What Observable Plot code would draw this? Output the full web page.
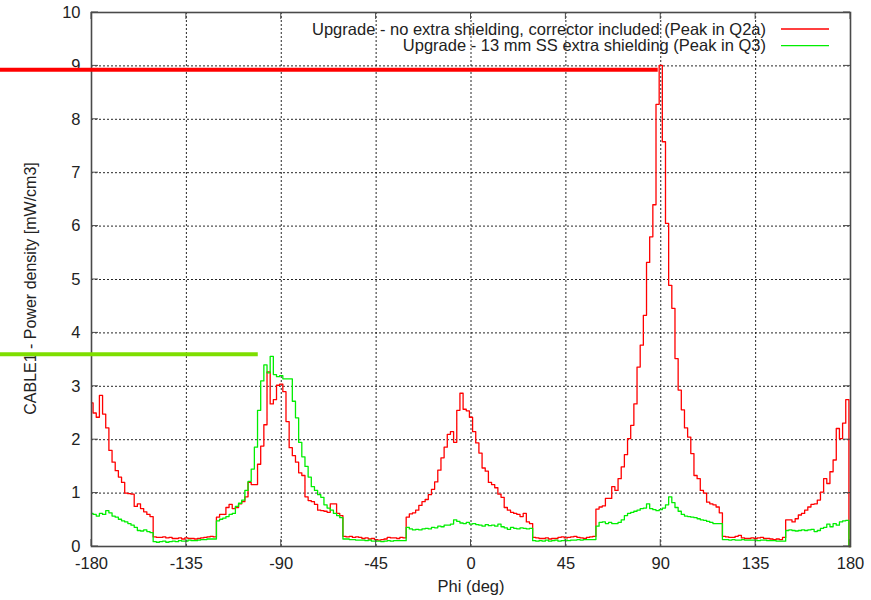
<!DOCTYPE html>
<html>
<head>
<meta charset="utf-8">
<script src="https://cdn.jsdelivr.net/npm/d3@7"></script>
<script src="https://cdn.jsdelivr.net/npm/@observablehq/plot@0.6"></script>
<style>
  html, body { margin: 0; padding: 0; background: #fff; }
  #chart svg { display: block; }
</style>
</head>
<body>
<div id="chart"></div>
<script>
// ---------- data (bins of 1.5 deg, centred on -180, -178.5, ..., 178.5) ----------
const phiFirst = -180;
const phiStep = 1.5;
const phiEnd = 180;

const seriesNames = [
  "Upgrade - no extra shielding, corrector included (Peak in Q2a)",
  "Upgrade - 13 mm SS extra shielding (Peak in Q3)"
];
const seriesColors = ["#ff0000", "#00ee00"];

const redPower = [
  // -180 .. -151.5
  2.69, 2.5, 2.42, 2.83, 2.48, 2.22, 1.8, 1.58, 1.42, 1.3, 1.2, 1.0, 0.99, 0.98, 0.75, 0.8, 0.71, 0.65, 0.6, 0.56,
  // -150 .. -121.5
  0.18, 0.17, 0.17, 0.18, 0.16, 0.17, 0.15, 0.15, 0.16, 0.14, 0.16, 0.15, 0.15, 0.14, 0.15, 0.16, 0.17, 0.18, 0.19, 0.18,
  // -120 .. -61.5
  0.55, 0.6, 0.6, 0.73, 0.79, 0.71, 0.73, 0.8, 0.84, 0.93, 1.2, 1.16, 1.16, 1.54, 1.88, 2.28, 3.27, 2.67, 2.75, 3.02,
  3.04, 2.9, 2.34, 1.85, 1.7, 1.58, 1.38, 1.33, 0.93, 0.86, 0.84, 0.79, 0.68, 0.67, 0.66, 0.64, 0.8, 0.8, 0.62, 0.58,
  // -60 .. -31.5
  0.19, 0.18, 0.19, 0.17, 0.18, 0.17, 0.15, 0.16, 0.14, 0.15, 0.13, 0.12, 0.13, 0.14, 0.17, 0.16, 0.16, 0.15, 0.17, 0.16,
  // -30 .. 28.5
  0.55, 0.61, 0.63, 0.68, 0.77, 0.84, 0.88, 0.97, 1.07, 1.21, 1.43, 1.66, 1.86, 2.1, 2.15, 1.95, 2.55, 2.87, 2.57, 2.54,
  2.42, 2.15, 1.94, 1.75, 1.47, 1.41, 1.2, 1.16, 1.1, 0.98, 0.92, 0.73, 0.68, 0.64, 0.62, 0.6, 0.56, 0.62, 0.46, 0.43,
  // 30 .. 58.5
  0.17, 0.16, 0.15, 0.15, 0.16, 0.14, 0.15, 0.15, 0.17, 0.18, 0.16, 0.17, 0.18, 0.19, 0.17, 0.16, 0.15, 0.17, 0.18, 0.19,
  // 60 .. 118.5
  0.7, 0.74, 0.76, 0.9, 0.9, 1.12, 1.05, 1.27, 1.49, 1.72, 2.02, 2.27, 2.67, 3.36, 3.77, 4.33, 5.32, 5.8, 6.4, 8.28,
  9.01, 7.58, 6.05, 4.89, 4.46, 3.52, 2.93, 2.56, 2.22, 2.05, 1.74, 1.33, 1.27, 1.05, 1.0, 0.83, 0.8, 0.78, 0.74, 0.63,
  // 120 .. 148.5
  0.19, 0.18, 0.17, 0.17, 0.19, 0.21, 0.16, 0.15, 0.15, 0.16, 0.15, 0.16, 0.17, 0.15, 0.15, 0.14, 0.13, 0.14, 0.13, 0.17,
  // 150 .. 178.5
  0.5, 0.5, 0.46, 0.52, 0.59, 0.62, 0.68, 0.74, 0.79, 0.8, 0.87, 1.02, 1.27, 1.18, 1.4, 1.62, 2.21, 2.02, 2.31, 2.75
];

const greenPower = [
  // -180 .. -151.5
  0.62, 0.6, 0.57, 0.62, 0.6, 0.67, 0.63, 0.57, 0.55, 0.51, 0.48, 0.46, 0.43, 0.4, 0.36, 0.3, 0.29, 0.31, 0.28, 0.26,
  // -150 .. -121.5
  0.09, 0.08, 0.09, 0.1, 0.08, 0.09, 0.1, 0.09, 0.11, 0.1, 0.1, 0.12, 0.11, 0.11, 0.12, 0.13, 0.13, 0.14, 0.14, 0.14,
  // -120 .. -61.5
  0.48, 0.51, 0.53, 0.56, 0.6, 0.62, 0.75, 0.81, 0.87, 1.05, 1.22, 1.45, 1.86, 2.55, 3.1, 3.4, 3.25, 3.56, 3.22, 3.18,
  3.2, 3.14, 3.14, 3.14, 2.72, 2.41, 1.95, 1.68, 1.5, 1.3, 1.12, 1.05, 0.97, 0.92, 0.78, 0.72, 0.68, 0.62, 0.58, 0.54,
  // -60 .. -31.5
  0.14, 0.14, 0.13, 0.13, 0.12, 0.12, 0.12, 0.11, 0.12, 0.1, 0.1, 0.1, 0.09, 0.1, 0.11, 0.1, 0.11, 0.11, 0.11, 0.11,
  // -30 .. 28.5
  0.36, 0.33, 0.31, 0.32, 0.31, 0.33, 0.34, 0.33, 0.36, 0.35, 0.38, 0.37, 0.4, 0.4, 0.42, 0.5, 0.47, 0.44, 0.43, 0.45,
  0.42, 0.43, 0.41, 0.4, 0.38, 0.41, 0.39, 0.4, 0.38, 0.42, 0.37, 0.35, 0.32, 0.36, 0.34, 0.33, 0.35, 0.34, 0.33, 0.34,
  // 30 .. 58.5
  0.11, 0.1, 0.11, 0.1, 0.12, 0.1, 0.11, 0.12, 0.1, 0.11, 0.12, 0.11, 0.12, 0.12, 0.13, 0.12, 0.13, 0.13, 0.13, 0.13,
  // 60 .. 118.5
  0.38, 0.45, 0.46, 0.43, 0.45, 0.43, 0.43, 0.45, 0.5, 0.58, 0.62, 0.64, 0.66, 0.68, 0.71, 0.72, 0.8, 0.71, 0.69, 0.67,
  0.69, 0.72, 0.78, 0.93, 0.82, 0.73, 0.66, 0.6, 0.57, 0.56, 0.55, 0.54, 0.52, 0.5, 0.49, 0.47, 0.45, 0.43, 0.43, 0.43,
  // 120 .. 148.5
  0.13, 0.13, 0.12, 0.13, 0.12, 0.12, 0.13, 0.12, 0.12, 0.12, 0.12, 0.11, 0.12, 0.12, 0.11, 0.11, 0.11, 0.1, 0.1, 0.1,
  // 150 .. 178.5
  0.3, 0.31, 0.3, 0.29, 0.3, 0.31, 0.3, 0.31, 0.32, 0.28, 0.3, 0.34, 0.36, 0.42, 0.37, 0.43, 0.4, 0.46, 0.48, 0.49
];

const xTicks = [-180, -135, -90, -45, 0, 45, 90, 135, 180];
const yTicks = [0, 1, 2, 3, 4, 5, 6, 7, 8, 9, 10];
const xLabel = "Phi (deg)";
const yLabel = "CABLE1 - Power density [mW/cm3]";

// hand-drawn highlight bars (value level, x start/end in degrees)
const highlightLevels = [8.93, 3.6];
const highlightStarts = [-223.2, -223.2];
const highlightEnds = [88.8, -100.9];
const highlightColors = ["#ff0000", "#7ede00"];

// ---------- build rows ----------
function rowsFor(values, name) {
  const rows = values.map((v, i) => ({phi: phiFirst + i * phiStep, power: v, series: name}));
  rows.push({phi: phiEnd, power: 0, series: name}); // histogram closes to zero at the edge
  return rows;
}
const redRows = rowsFor(redPower, seriesNames[0]);
const greenRows = rowsFor(greenPower, seriesNames[1]);

const FONT = "'Liberation Sans', Arial, Helvetica, sans-serif";
const TEXT = "#222";
const FRAME = "#4a4a4a";
const FS = 16.5;

// inward ticks on all four sides
function frameTicks(index, scales, values, dim) {
  const g = d3.create("svg:g").attr("stroke", FRAME).attr("stroke-width", 1);
  const top = dim.marginTop, bottom = dim.height - dim.marginBottom;
  const left = dim.marginLeft, right = dim.width - dim.marginRight;
  const L = 7;
  for (const t of xTicks) {
    const px = scales.x(t);
    g.append("line").attr("x1", px).attr("x2", px).attr("y1", bottom).attr("y2", bottom - L);
    g.append("line").attr("x1", px).attr("x2", px).attr("y1", top).attr("y2", top + L);
  }
  for (const t of yTicks) {
    const py = scales.y(t);
    g.append("line").attr("y1", py).attr("y2", py).attr("x1", left).attr("x2", left + L);
    g.append("line").attr("y1", py).attr("y2", py).attr("x1", right).attr("x2", right - L);
  }
  return g.node();
}

// gnuplot-style key, top right inside the frame
function keyBox(index, scales, values, dim) {
  const g = d3.create("svg:g").attr("font-family", FONT).attr("font-size", FS).attr("fill", TEXT);
  const right = dim.width - dim.marginRight;
  const top = dim.marginTop;
  seriesNames.forEach((name, i) => {
    const cy = top + 17 + i * 16.7;
    g.append("text").attr("x", right - 84).attr("y", cy).attr("dy", "0.35em")
      .attr("text-anchor", "end").text(name);
    g.append("line").attr("x1", right - 69).attr("x2", right - 21).attr("y1", cy).attr("y2", cy)
      .attr("stroke", seriesColors[i]).attr("stroke-width", 1.3);
  });
  return g.node();
}

const chart = Plot.plot({
  width: 871,
  height: 600,
  marginLeft: 91,
  marginRight: 21,
  marginTop: 12,
  marginBottom: 54,
  style: {fontFamily: FONT, fontSize: FS + "px", color: TEXT, background: "#fff"},
  x: {domain: [-180, 180], axis: null},
  y: {domain: [0, 10], axis: null},
  marks: [
    Plot.gridX(xTicks, {stroke: "#000", strokeOpacity: 0.85, strokeDasharray: "2,2", strokeWidth: 1}),
    Plot.gridY(yTicks, {stroke: "#000", strokeOpacity: 0.85, strokeDasharray: "2,2", strokeWidth: 1}),
    Plot.line(redRows, {x: "phi", y: "power", curve: "step", stroke: seriesColors[0], strokeWidth: 1.3}),
    Plot.line(greenRows, {x: "phi", y: "power", curve: "step", stroke: seriesColors[1], strokeWidth: 1.3}),
    Plot.frame({stroke: FRAME, strokeWidth: 1.6}),
    frameTicks,
    Plot.axisX(xTicks, {anchor: "bottom", tickSize: 0, tickPadding: 11, fontSize: FS, fill: TEXT, label: null, tickFormat: d => String(d)}),
    Plot.axisY(yTicks, {anchor: "left", tickSize: 0, tickPadding: 11, fontSize: FS, fill: TEXT, label: null, tickFormat: d => String(d)}),
    Plot.text([xLabel], {frameAnchor: "bottom", dy: 40, lineAnchor: "middle", fontSize: FS, fill: TEXT, text: d => d}),
    Plot.text([yLabel], {frameAnchor: "left", dx: -61, dy: 9, rotate: -90, textAnchor: "middle", lineAnchor: "middle", fontSize: 16, fill: TEXT, text: d => d}),
    keyBox,
    Plot.ruleY([highlightLevels[0]], {x1: highlightStarts[0], x2: highlightEnds[0], stroke: highlightColors[0], strokeWidth: 4}),
    Plot.ruleY([highlightLevels[1]], {x1: highlightStarts[1], x2: highlightEnds[1], stroke: highlightColors[1], strokeWidth: 4})
  ]
});

document.getElementById("chart").appendChild(chart);
</script>
</body>
</html>
